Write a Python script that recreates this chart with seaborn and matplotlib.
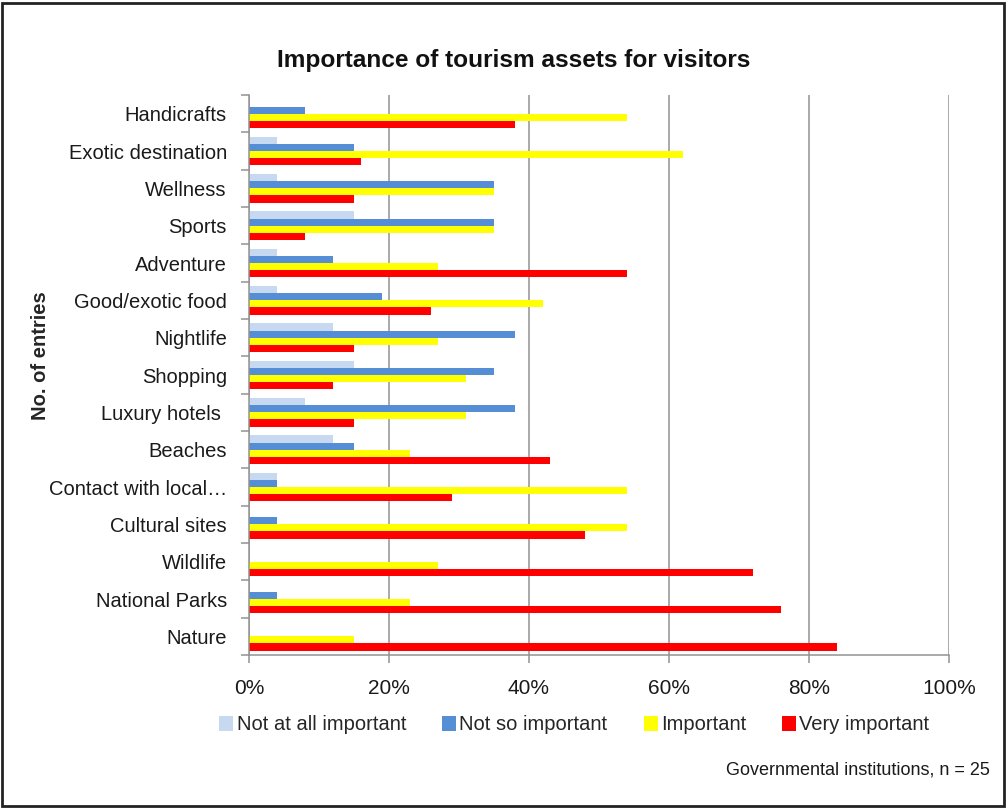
import matplotlib
matplotlib.use("Agg")
import matplotlib.pyplot as plt
from matplotlib.patches import Rectangle
from matplotlib.ticker import FixedLocator, FuncFormatter
import numpy as np
import pandas as pd
import seaborn as sns

# Tourism assets, listed top to bottom
categories = [
    "Handicrafts", "Exotic destination", "Wellness", "Sports", "Adventure",
    "Good/exotic food", "Nightlife", "Shopping", "Luxury hotels ", "Beaches",
    "Contact with local\u2026", "Cultural sites", "Wildlife", "National Parks", "Nature",
]

# Share of answers (%) per rating level
not_at_all_important = [0, 4, 4, 15, 4, 4, 12, 15, 8, 12, 4, 0, 0, 0, 0]
not_so_important     = [8, 15, 35, 35, 12, 19, 38, 35, 38, 15, 4, 4, 0, 4, 0]
important            = [54, 62, 35, 35, 27, 42, 27, 31, 31, 23, 54, 54, 27, 23, 15]
very_important       = [38, 16, 15, 8, 54, 26, 15, 12, 15, 43, 29, 48, 72, 76, 84]

levels = ["Not at all important", "Not so important", "Important", "Very important"]
palette = ["#C6D9F1", "#558ED5", "#FFFF00", "#FF0000"]
xticks = [0, 20, 40, 60, 80, 100]

df = pd.DataFrame({
    "asset": categories,
    levels[0]: not_at_all_important,
    levels[1]: not_so_important,
    levels[2]: important,
    levels[3]: very_important,
})
long_df = df.melt(id_vars="asset", var_name="level", value_name="share")

sns.set_style("white")
plt.rcParams["font.family"] = ["Liberation Sans", "DejaVu Sans"]

fig = plt.figure(figsize=(10.06, 8.08), dpi=100)
ax = fig.add_axes([249 / 1006, 1 - 655 / 808, 700 / 1006, 560 / 808])

sns.barplot(
    data=long_df, x="share", y="asset", hue="level",
    order=categories, hue_order=levels, palette=palette,
    orient="h", width=0.76, linewidth=0, saturation=1, ax=ax,
)

ax.set_xlim(0, 100)
ax.set_ylim(len(categories) - 0.5, -0.5)
ax.xaxis.set_major_locator(FixedLocator(xticks))
ax.xaxis.set_major_formatter(FuncFormatter(lambda v, _: f"{v:.0f}%"))
ax.grid(axis="x", color="#929292", linewidth=1.1)
ax.set_axisbelow(True)

for side in ("top", "right"):
    ax.spines[side].set_visible(False)
for side in ("left", "bottom"):
    ax.spines[side].set_color("#929292")
    ax.spines[side].set_linewidth(1.1)

# Category labels without ticks; tick marks at the group boundaries
ax.tick_params(axis="y", which="major", length=0, pad=16, labelsize=14.5, labelcolor="#1a1a1a")
ax.yaxis.set_minor_locator(FixedLocator(np.arange(-0.5, len(categories), 1.0)))
ax.tick_params(axis="y", which="minor", left=True, length=6, width=1.1, color="#929292")
ax.tick_params(axis="x", which="major", bottom=True, length=6, width=1.1, color="#929292",
               pad=11, labelsize=15, labelcolor="#1a1a1a")

ax.set_xlabel("")
ax.set_ylabel("No. of entries", fontsize=14.5, fontweight="bold")
ax.yaxis.set_label_coords(-0.284, 0.534)

fig.text(514 / 1006, 1 - 60 / 808, "Importance of tourism assets for visitors",
         ha="center", va="center", fontsize=17.6, fontweight="bold", color="#111111")

sns.move_legend(
    ax, loc="center", bbox_to_anchor=(0.465, -0.125), ncol=4, frameon=False,
    title=None, fontsize=14.5, handlelength=0.7, handleheight=0.7,
    handletextpad=0.15, columnspacing=1.8,
)

fig.text(990 / 1006, 1 - 770 / 808, "Governmental institutions, n = 25",
         ha="right", va="center", fontsize=13, color="#1a1a1a")

fig.add_artist(Rectangle((0.002, 0.002), 0.996, 0.994, transform=fig.transFigure,
                         fill=False, edgecolor="#222222", linewidth=2))

fig.savefig("out.png", dpi=100)
